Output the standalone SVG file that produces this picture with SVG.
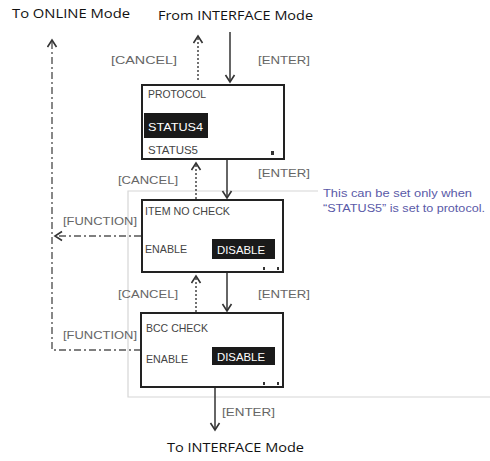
<svg xmlns="http://www.w3.org/2000/svg" width="490" height="461" viewBox="0 0 490 461">
<style>
.title{font-family:"Open Sans","Liberation Sans",sans-serif;font-size:13px;fill:#111}
.lbl{font-family:"Liberation Sans",Arial,sans-serif;font-size:10.5px;fill:#666}
.box{fill:#fff;stroke:#222;stroke-width:2}
.bt{font-family:"Liberation Sans",Arial,sans-serif;font-size:11.5px;fill:#444}
.inv{font-family:"Liberation Sans",Arial,sans-serif;font-size:11.5px;fill:#fff}
.hl{fill:#1a1a1a}
.solid{stroke:#333;stroke-width:1.5;fill:none}
.dot{stroke:#444;stroke-width:1.5;fill:none;stroke-dasharray:2 2}
.dd{stroke:#555;stroke-width:1.4;fill:none;stroke-dasharray:7 3 2 3}
.frame{stroke:#d6d6d6;stroke-width:1.2;fill:none}
.note{font-family:"Liberation Sans",Arial,sans-serif;font-size:10px;fill:#5a5aa8}
.mark{fill:#333}
</style>
<defs>
<marker id="open" markerWidth="12" markerHeight="12" refX="8" refY="5.5" orient="auto" markerUnits="userSpaceOnUse">
<path d="M1,1 L8,5.5 L1,10" fill="none" stroke="#333" stroke-width="1.6"/>
</marker>
</defs>

<path class="frame" d="M318,191 H128 V397 H490"/>

<g id="connectors">
<line class="solid" x1="230" y1="32" x2="230" y2="82" marker-end="url(#open)"/>
<line class="dot" x1="198" y1="80" x2="198" y2="36" marker-end="url(#open)"/>
<line class="solid" x1="227" y1="159" x2="227" y2="198" marker-end="url(#open)"/>
<line class="dot" x1="196" y1="199" x2="196" y2="163" marker-end="url(#open)"/>
<line class="solid" x1="227" y1="272" x2="227" y2="311" marker-end="url(#open)"/>
<line class="dot" x1="196" y1="312" x2="196" y2="276" marker-end="url(#open)"/>
<line class="solid" x1="215" y1="387" x2="215" y2="430" marker-end="url(#open)"/>
<path class="dd" d="M141,350 H52 V40" marker-end="url(#open)"/>
<line class="dd" x1="141" y1="236" x2="55" y2="236" marker-end="url(#open)"/>
</g>

<g id="labels">
<text class="title" x="12" y="18" textLength="118" lengthAdjust="spacingAndGlyphs">To ONLINE Mode</text>
<text class="title" x="158" y="20" textLength="155" lengthAdjust="spacingAndGlyphs">From INTERFACE Mode</text>
<text class="lbl" x="111" y="64" textLength="66" lengthAdjust="spacingAndGlyphs">[CANCEL]</text>
<text class="lbl" x="258" y="64" textLength="52" lengthAdjust="spacingAndGlyphs">[ENTER]</text>
<text class="lbl" x="118" y="184" textLength="60" lengthAdjust="spacingAndGlyphs">[CANCEL]</text>
<text class="lbl" x="258" y="177" textLength="52" lengthAdjust="spacingAndGlyphs">[ENTER]</text>
<text class="lbl" x="63" y="225" textLength="74" lengthAdjust="spacingAndGlyphs">[FUNCTION]</text>
<text class="lbl" x="118" y="298" textLength="60" lengthAdjust="spacingAndGlyphs">[CANCEL]</text>
<text class="lbl" x="258" y="298" textLength="52" lengthAdjust="spacingAndGlyphs">[ENTER]</text>
<text class="lbl" x="63" y="339" textLength="74" lengthAdjust="spacingAndGlyphs">[FUNCTION]</text>
<text class="lbl" x="222" y="416" textLength="53" lengthAdjust="spacingAndGlyphs">[ENTER]</text>
<text class="title" x="167" y="452" textLength="137" lengthAdjust="spacingAndGlyphs">To INTERFACE Mode</text>
<text class="note" x="323" y="197" textLength="149" lengthAdjust="spacingAndGlyphs">This can be set only when</text>
<text class="note" x="323" y="212" textLength="162" lengthAdjust="spacingAndGlyphs">“STATUS5” is set to protocol.</text>
</g>

<g id="protocol">
<rect class="box" x="142" y="85" width="142" height="74"/>
<text class="bt" x="148" y="98" textLength="58" lengthAdjust="spacingAndGlyphs">PROTOCOL</text>
<rect class="hl" x="144" y="113" width="64" height="25"/>
<text class="inv" x="148" y="131" textLength="55" lengthAdjust="spacingAndGlyphs">STATUS4</text>
<text class="bt" x="148" y="154" textLength="50" lengthAdjust="spacingAndGlyphs">STATUS5</text>
<rect class="mark" x="271" y="151" width="3" height="4"/>
</g>

<g id="item-no-check">
<rect class="box" x="142" y="200" width="141" height="72"/>
<text class="bt" x="145" y="215" textLength="85" lengthAdjust="spacingAndGlyphs">ITEM NO CHECK</text>
<text class="bt" x="145" y="253" textLength="42" lengthAdjust="spacingAndGlyphs">ENABLE</text>
<rect class="hl" x="212" y="239" width="63" height="20"/>
<text class="inv" x="217" y="254" textLength="48" lengthAdjust="spacingAndGlyphs">DISABLE</text>
<rect class="mark" x="263" y="267" width="2" height="3"/>
<rect class="mark" x="277" y="267" width="2" height="3"/>
</g>

<g id="bcc-check">
<rect class="box" x="141" y="313" width="142" height="74"/>
<text class="bt" x="146" y="332" textLength="62" lengthAdjust="spacingAndGlyphs">BCC CHECK</text>
<text class="bt" x="146" y="363" textLength="42" lengthAdjust="spacingAndGlyphs">ENABLE</text>
<rect class="hl" x="212" y="347" width="63" height="18"/>
<text class="inv" x="217" y="361" textLength="48" lengthAdjust="spacingAndGlyphs">DISABLE</text>
<rect class="mark" x="263" y="382" width="2" height="3"/>
<rect class="mark" x="277" y="382" width="2" height="3"/>
</g>
</svg>
